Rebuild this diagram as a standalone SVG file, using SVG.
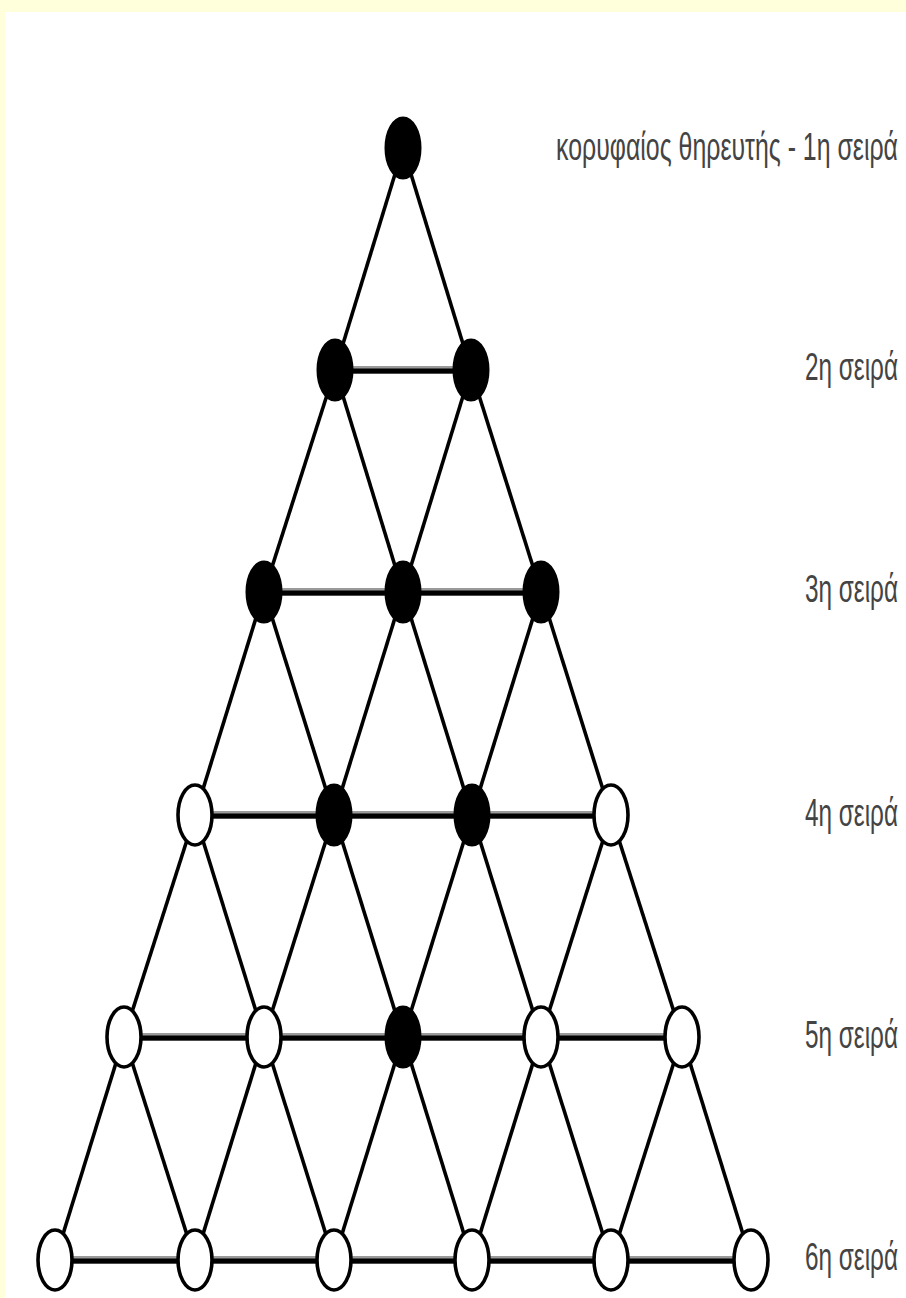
<svg xmlns="http://www.w3.org/2000/svg" width="906" height="1298" viewBox="0 0 906 1298">
<style>
.d{stroke:#000;stroke-width:3.6;fill:none}
.hg{stroke:#9a9a9a;stroke-width:8;fill:none}
.h{stroke:#000;stroke-width:5;fill:none}
.f{fill:#000;stroke:#000;stroke-width:3}
.o{fill:#fff;stroke:#000;stroke-width:3.6}
.t{font-family:"Liberation Sans",Arial,sans-serif;font-size:38px;fill:#444}
</style>
<rect width="906" height="1298" fill="#ffffdc"/>
<rect x="5" y="12" width="901" height="1286" fill="#fff"/>
<g id="connectors">
<g class="d">
<line x1="403" y1="148" x2="335" y2="370"/><line x1="403" y1="148" x2="471" y2="370"/>
<line x1="335" y1="370" x2="264" y2="592"/><line x1="335" y1="370" x2="403" y2="592"/>
<line x1="471" y1="370" x2="403" y2="592"/><line x1="471" y1="370" x2="541" y2="592"/>
<line x1="264" y1="592" x2="195" y2="815"/><line x1="264" y1="592" x2="334" y2="815"/>
<line x1="403" y1="592" x2="334" y2="815"/><line x1="403" y1="592" x2="472" y2="815"/>
<line x1="541" y1="592" x2="472" y2="815"/><line x1="541" y1="592" x2="611" y2="815"/>
<line x1="195" y1="815" x2="124" y2="1037"/><line x1="195" y1="815" x2="264" y2="1037"/>
<line x1="334" y1="815" x2="264" y2="1037"/><line x1="334" y1="815" x2="403" y2="1037"/>
<line x1="472" y1="815" x2="403" y2="1037"/><line x1="472" y1="815" x2="541" y2="1037"/>
<line x1="611" y1="815" x2="541" y2="1037"/><line x1="611" y1="815" x2="682" y2="1037"/>
<line x1="124" y1="1037" x2="55" y2="1260"/><line x1="124" y1="1037" x2="195" y2="1260"/>
<line x1="264" y1="1037" x2="195" y2="1260"/><line x1="264" y1="1037" x2="334" y2="1260"/>
<line x1="403" y1="1037" x2="334" y2="1260"/><line x1="403" y1="1037" x2="472" y2="1260"/>
<line x1="541" y1="1037" x2="472" y2="1260"/><line x1="541" y1="1037" x2="611" y2="1260"/>
<line x1="682" y1="1037" x2="611" y2="1260"/><line x1="682" y1="1037" x2="751" y2="1260"/>
</g>
<g class="hg">
<line x1="335" y1="370" x2="471" y2="370"/>
<line x1="264" y1="592" x2="541" y2="592"/>
<line x1="195" y1="815" x2="611" y2="815"/>
<line x1="124" y1="1037" x2="682" y2="1037"/>
<line x1="55" y1="1260" x2="751" y2="1260"/>
</g>
<g class="h">
<line x1="335" y1="371" x2="471" y2="371"/>
<line x1="264" y1="593" x2="541" y2="593"/>
<line x1="195" y1="816" x2="611" y2="816"/>
<line x1="124" y1="1038" x2="682" y2="1038"/>
<line x1="55" y1="1261" x2="751" y2="1261"/>
</g>
</g>
<g id="r1n1"><ellipse class="f" cx="403" cy="148" rx="17" ry="30"/></g>
<g id="r2n1"><ellipse class="f" cx="335" cy="370" rx="17" ry="30"/></g>
<g id="r2n2"><ellipse class="f" cx="471" cy="370" rx="17" ry="30"/></g>
<g id="r3n1"><ellipse class="f" cx="264" cy="592" rx="17" ry="30"/></g>
<g id="r3n2"><ellipse class="f" cx="403" cy="592" rx="17" ry="30"/></g>
<g id="r3n3"><ellipse class="f" cx="541" cy="592" rx="17" ry="30"/></g>
<g id="r4n1"><ellipse class="o" cx="195" cy="815" rx="17" ry="30"/></g>
<g id="r4n2"><ellipse class="f" cx="334" cy="815" rx="17" ry="30"/></g>
<g id="r4n3"><ellipse class="f" cx="472" cy="815" rx="17" ry="30"/></g>
<g id="r4n4"><ellipse class="o" cx="611" cy="815" rx="17" ry="30"/></g>
<g id="r5n1"><ellipse class="o" cx="124" cy="1037" rx="17" ry="30"/></g>
<g id="r5n2"><ellipse class="o" cx="264" cy="1037" rx="17" ry="30"/></g>
<g id="r5n3"><ellipse class="f" cx="403" cy="1037" rx="17" ry="30"/></g>
<g id="r5n4"><ellipse class="o" cx="541" cy="1037" rx="17" ry="30"/></g>
<g id="r5n5"><ellipse class="o" cx="682" cy="1037" rx="17" ry="30"/></g>
<g id="r6n1"><ellipse class="o" cx="55" cy="1260" rx="17" ry="30"/></g>
<g id="r6n2"><ellipse class="o" cx="195" cy="1260" rx="17" ry="30"/></g>
<g id="r6n3"><ellipse class="o" cx="334" cy="1260" rx="17" ry="30"/></g>
<g id="r6n4"><ellipse class="o" cx="472" cy="1260" rx="17" ry="30"/></g>
<g id="r6n5"><ellipse class="o" cx="611" cy="1260" rx="17" ry="30"/></g>
<g id="r6n6"><ellipse class="o" cx="751" cy="1260" rx="17" ry="30"/></g>
<g id="labels">
<text class="t" transform="translate(556,160) scale(0.6,1)" textLength="570" lengthAdjust="spacingAndGlyphs">κορυφαίος θηρευτής - 1η σειρά</text>
<text class="t" transform="translate(805,380) scale(0.6,1)" textLength="155" lengthAdjust="spacingAndGlyphs">2η σειρά</text>
<text class="t" transform="translate(805,602) scale(0.6,1)" textLength="155" lengthAdjust="spacingAndGlyphs">3η σειρά</text>
<text class="t" transform="translate(805,826) scale(0.6,1)" textLength="155" lengthAdjust="spacingAndGlyphs">4η σειρά</text>
<text class="t" transform="translate(805,1048) scale(0.6,1)" textLength="155" lengthAdjust="spacingAndGlyphs">5η σειρά</text>
<text class="t" transform="translate(805,1270) scale(0.6,1)" textLength="155" lengthAdjust="spacingAndGlyphs">6η σειρά</text>
</g>
</svg>
